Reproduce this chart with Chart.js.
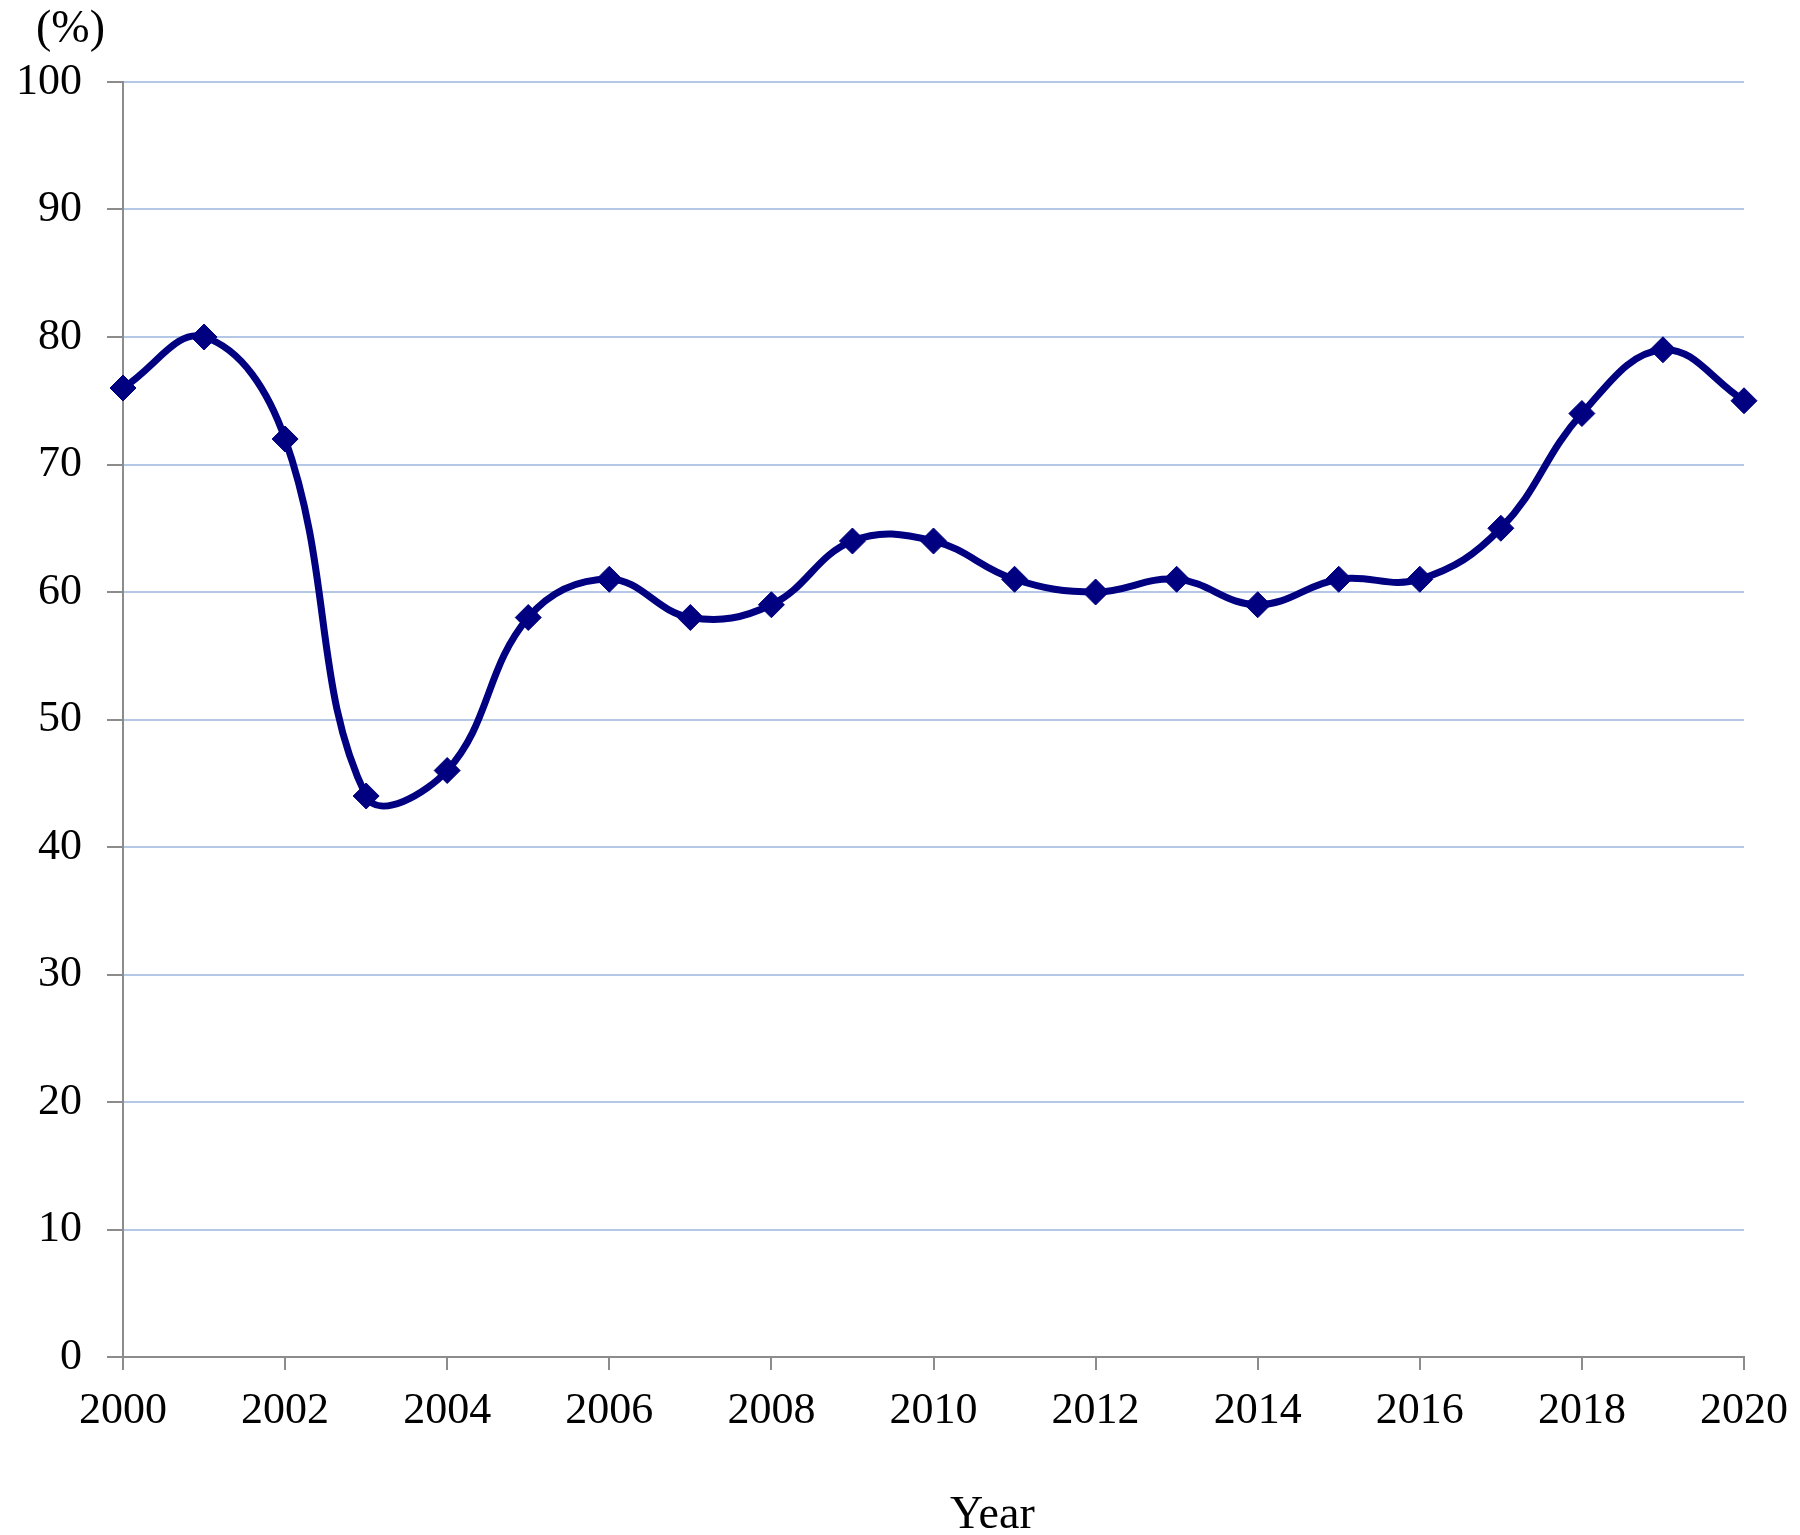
<!DOCTYPE html>
<html>
<head>
<meta charset="utf-8">
<script src="https://cdn.jsdelivr.net/npm/chart.js@4.4.0/dist/chart.umd.min.js"></script>
<style>
  html, body { margin: 0; padding: 0; background: #fff; }
  #wrap { position: relative; width: 1800px; height: 1535px; }
  .lbl { position: absolute; font-family: "Liberation Serif", "Times New Roman", serif; font-size: 46px; color: #000; line-height: 1; }
</style>
</head>
<body>
<div id="wrap">
  <canvas id="chart" width="1800" height="1535"></canvas>
  <div class="lbl" style="left:36px; top:4px;">(%)</div>
  <div class="lbl" style="left:950px; top:1490px;">Year</div>
</div>
<script>
const years = [2000, 2001, 2002, 2003, 2004, 2005, 2006, 2007, 2008, 2009, 2010,
  2011, 2012, 2013, 2014, 2015, 2016, 2017, 2018, 2019, 2020];
const values = [76, 80, 72, 44, 46, 58, 61, 58, 59, 64, 64,
  61, 60, 61, 59, 61, 61, 65, 74, 79, 75];
const yTicks = [0, 10, 20, 30, 40, 50, 60, 70, 80, 90, 100];

const serif = '"Liberation Serif", "Times New Roman", serif';
const axisGray = "#8c8c8c";

new Chart(document.getElementById("chart"), {
  type: "line",
  data: {
    datasets: [{
      data: years.map((y, i) => ({ x: y, y: values[i] })),
      borderColor: "#000080",
      backgroundColor: "#000080",
      borderWidth: 7,
      tension: 0.4,
      pointStyle: "rectRot",
      pointRadius: 13,
      pointBorderWidth: 1,
      clip: false,
    }],
  },
  options: {
    responsive: false,
    animation: false,
    layout: { autoPadding: false, padding: { left: 0, right: 0, top: 82, bottom: 0 } },
    plugins: { legend: { display: false }, tooltip: { enabled: false } },
    scales: {
      x: {
        type: "linear",
        min: 2000,
        max: 2020,
        afterBuildTicks: (s) => { s.ticks = years.filter((y) => y % 2 === 0).map((v) => ({ value: v })); },
        afterFit: (s) => { s.height = 1535 - 1357; s.paddingRight = 56; s.paddingLeft = 0; },
        grid: { drawOnChartArea: false, drawTicks: true, tickLength: 13, color: axisGray, lineWidth: 2 },
        border: { display: true, color: axisGray, width: 2 },
        ticks: { color: "#000", padding: 15, maxRotation: 0, font: { family: serif, size: 44 }, callback: (v) => String(v) },
      },
      y: {
        min: 0,
        max: 100,
        afterBuildTicks: (s) => { s.ticks = yTicks.map((v) => ({ value: v })); },
        afterFit: (s) => { s.width = 123; },
        grid: { color: "#b4c7e7", lineWidth: 2, tickLength: 16, tickColor: axisGray },
        border: { display: true, color: axisGray, width: 2 },
        ticks: { color: "#000", padding: 25, font: { family: serif, size: 44 } },
      },
    },
  },
});
</script>
</body>
</html>
